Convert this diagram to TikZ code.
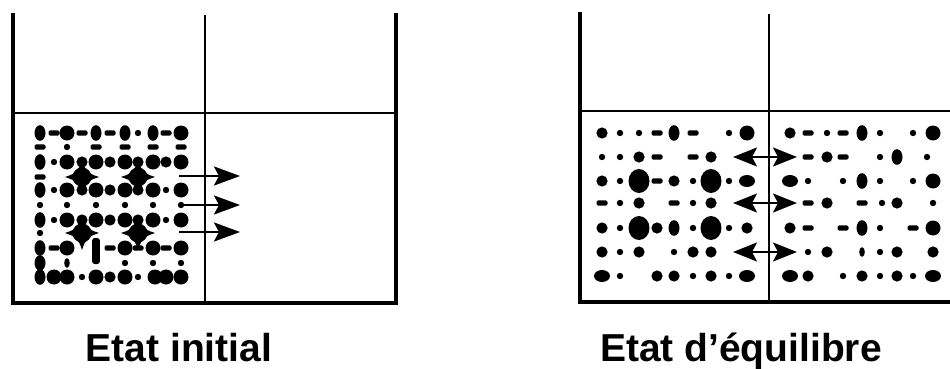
\documentclass[tikz,border=0pt]{standalone}
\usepackage{fontspec}
\setmainfont{Liberation Sans}
\usetikzlibrary{arrows.meta}
\newcommand\pkB[2]{\fill (#1,#2) circle[radius=7.5pt];}
\newcommand\pkH[2]{\fill (#1,#2) ellipse[x radius=10.5pt,y radius=12pt];}
\newcommand\pkM[2]{\fill (#1,#2) circle[radius=5.6pt];}
\newcommand\pkS[2]{\fill (#1,#2) circle[radius=3.2pt];}
\newcommand\pkD[2]{\fill[rounded corners=1.5pt] (#1,#2) ++(-5.5,-2.6) rectangle ++(11,5.2);}
\newcommand\pkV[2]{\fill (#1,#2) ellipse[x radius=5.5pt,y radius=7.8pt];}
\newcommand\pkW[2]{\fill (#1,#2) ellipse[x radius=8pt,y radius=6pt];}
\newcommand\pkT[2]{\fill (#1,#2) ellipse[x radius=2.8pt,y radius=4.8pt];}
\newcommand\pkL[2]{\fill[rounded corners=2.5pt] (#1,#2) ++(-3.8,-10) rectangle ++(7.6,26);}
\newcommand\pkStar[2]{\fill (#1,#2) circle[radius=9.5pt];
  \fill (#1+17,#2) .. controls (#1+6,#2-3.5) and (#1+3.5,#2-6) .. (#1,#2-17)
   .. controls (#1-3.5,#2-6) and (#1-6,#2-3.5) .. (#1-17,#2)
   .. controls (#1-6,#2+3.5) and (#1-3.5,#2+6) .. (#1,#2+17)
   .. controls (#1+3.5,#2+6) and (#1+6,#2+3.5) .. cycle;}
\tikzset{
  wall/.style={line width=3.4pt,line join=miter,line cap=rect},
  divider/.style={line width=2pt},
  level/.style={line width=2.6pt},
  arr/.style={line width=2.5pt,-{Stealth[length=26pt,width=19pt,inset=5pt]}},
  darr/.style={line width=2.2pt,{Stealth[length=24pt,width=19pt,inset=5pt]}-{Stealth[length=24pt,width=19pt,inset=5pt]}},
  lbl/.style={font=\fontsize{39}{39}\selectfont\bfseries,anchor=base,inner sep=0pt}
}
\begin{document}
\begin{tikzpicture}[x=1pt,y=-1pt]
\fill[white] (0,0) rectangle (950,369);
\useasboundingbox (0,0) rectangle (950,369);
% left container
\draw[wall] (13,15) -- (13,303) -- (396,303) -- (396,15);
\draw[divider] (205,15) -- (205,303);
\draw[level] (13,113) -- (396,113);
% right container
\draw[wall] (580,14) -- (580,302) -- (951,302);
\draw[divider] (769,14) -- (769,302);
\draw[level] (580,111) -- (951,111);
% left dots
\foreach \y/\row in {
 133/{V/40,D/54,B/67,D/82,V/96,D/110,V/125,S/138,V/153,D/166,B/181},
 147/{D/40,S/67,D/96,D/125,D/153,D/181},
 162/{V/40,S/54,B/67,M/82,B/96,M/110,B/125,M/138,B/153,M/166,B/181},
 177/{D/40},
 190/{V/40,S/54,B/67,M/82,B/96,M/110,B/125,M/138,B/153,S/166,B/181},
 205/{S/40,S/67,S/96,S/125,S/153,S/181},
 220/{V/40,S/54,B/67,M/82,B/96,M/110,B/125,M/138,B/153,S/166,B/181},
 233/{S/40},
 248/{V/40,D/54,B/67,L/96,D/110,B/125,D/138,B/153,D/166,B/181},
 263/{V/40,T/67,S/125,S/153,S/181},
 277/{V/40,B/54,B/67,S/82,B/96,M/110,B/125,S/138,B/155,B/166,B/181}}
 {\foreach \t/\x in \row {\csname pk\t\endcsname{\x}{\y}}}
\pkStar{82}{177}\pkStar{138}{177}\pkStar{82}{233}\pkStar{138}{233}
% right dots
\foreach \y/\row in {
 133/{M/602,S/620,S/639,D/657,V/674,D/693,S/729,B/747, M/790,D/808,S/827,D/843,V/862,S/880,S/913,B/933},
 157/{S/602,S/620,M/639,D/657,D/693,M/711, D/808,M/827,D/843,S/880,V/897,S/927},
 181/{M/602,S/620,H/639,D/657,M/674,S/693,H/711,S/729,W/747, W/790,S/808,S/843,V/862,S/880,S/913,B/933},
 203/{D/602,S/620,M/639,D/674,S/693,M/711, D/808,M/827,D/862,S/882,M/897,S/933},
 228/{M/602,S/620,H/639,M/657,V/674,S/693,H/711,S/729,M/747, M/790,D/808,D/843,V/862,S/880,D/913,B/933},
 252/{M/602,S/620,M/639,S/674,M/693,M/711, S/808,M/827,T/862,S/880,M/897,M/933},
 276/{W/602,S/620,M/657,M/674,S/693,M/711,S/729,W/747, W/790,M/808,S/843,M/862,S/880,M/897,S/913,W/933}}
 {\foreach \t/\x in \row {\csname pk\t\endcsname{\x}{\y}}}
% arrows
\coordinate (la1) at (179,176); \coordinate (lb1) at (240,176);
\coordinate (la2) at (182,205); \coordinate (lb2) at (240,205);
\coordinate (la3) at (179,232); \coordinate (lb3) at (240,232);
\draw[arr] (la1) -- (lb1);
\draw[arr] (la2) -- (lb2);
\draw[arr] (la3) -- (lb3);
\coordinate (ra1) at (733,157); \coordinate (rb1) at (797,157);
\coordinate (ra2) at (733,203); \coordinate (rb2) at (797,203);
\coordinate (ra3) at (733,252); \coordinate (rb3) at (797,252);
\draw[darr] (ra1) -- (rb1);
\draw[darr] (ra2) -- (rb2);
\draw[darr] (ra3) -- (rb3);
% labels
\node[lbl] (t1) at (179,361) {Etat initial};
\node[lbl] (t2) at (741,361) {Etat d’équilibre};
\end{tikzpicture}
\end{document}
